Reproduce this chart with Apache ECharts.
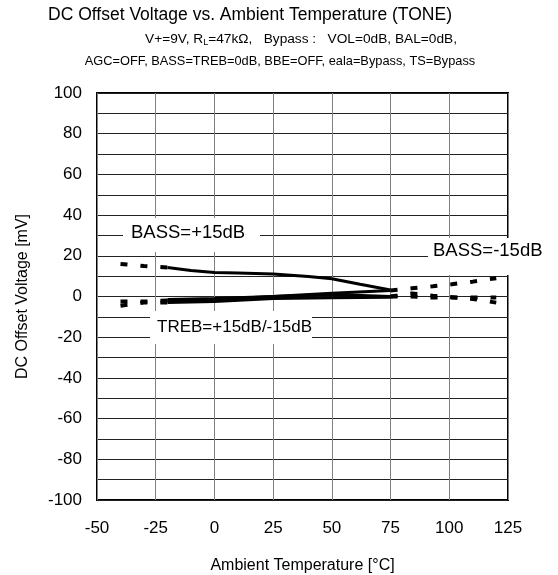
<!DOCTYPE html>
<html>
<head>
<meta charset="utf-8">
<script src="https://cdn.jsdelivr.net/npm/echarts@6/dist/echarts.min.js"></script>
<style>
html,body{margin:0;padding:0;background:#fff;}
#main{width:558px;height:575px;}
</style>
</head>
<body>
<div id="main"></div>
<script>
// temperature ticks and curves
var xTicks = [-50, -25, 0, 25, 50, 75, 100, 125];
var yTicks = [-100, -80, -60, -40, -20, 0, 20, 40, 60, 80, 100];

// measured range -20..75 (solid)
var bassPlus = [[-20, 14.2], [-10, 12.8], [0, 11.8], [10, 11.5], [25, 11], [40, 9.8], [50, 8.7], [62, 6], [75, 3.2]];
var bassMinus = [[-20, -2], [0, -1.5], [25, 0], [50, 1.6], [75, 3]];
var trebPlus = [[-20, -1.5], [0, -1], [25, 0], [50, 1], [75, 0]];
var trebMinus = [[-20, -3], [0, -2.5], [25, -1], [50, -0.6], [75, -0.4]];

// extrapolated range (dashed)
var bassPlusExt = [[-40, 16], [-30, 15], [-20, 14.2]];
var lowLeftA = [[-40, -2.5], [-30, -2.5], [-20, -2]];
var lowLeftB = [[-40, -4.5], [-30, -3], [-20, -3]];
var bassMinusExt = [[75, 3], [84, 4], [93, 5], [101, 6], [110, 7.3], [120, 9]];
var trebPlusExt = [[75, 0], [84, 0], [93, -0.5], [110, -0.5], [120, -0.5]];
var trebMinusExt = [[75, 0], [84, 1.5], [93, 0.4], [110, -1.2], [120, -3]];

var FONT = 'Liberation Sans, Arial, sans-serif';

function solid(d, w) {
    return {type: 'line', data: d, showSymbol: false, smooth: false, silent: true,
        lineStyle: {color: '#000', width: w}};
}
function dashed(d) {
    return {type: 'line', data: d, showSymbol: false, silent: true,
        lineStyle: {color: '#000', width: 4, type: [7, 13]}};
}

var dom = document.getElementById('main');
var myChart = echarts.init(dom);
var option = {
    backgroundColor: '#fff',
    animation: false,
    textStyle: {fontFamily: FONT, color: '#000'},
    grid: {left: 97, top: 93, right: 50, bottom: 75, outerBoundsMode: 'none', containLabel: false,
        show: true, borderColor: '#000', borderWidth: 2, backgroundColor: 'transparent'},
    xAxis: {
        type: 'value', min: xTicks[0], max: xTicks[xTicks.length - 1], interval: 25,
        axisLine: {show: false}, axisTick: {show: false},
        axisLabel: {fontSize: 17, color: '#000', margin: 20, fontFamily: FONT},
        splitLine: {lineStyle: {color: '#808080', width: 1}},
        name: 'Ambient Temperature [°C]', nameLocation: 'middle', nameGap: 58,
        nameTextStyle: {fontSize: 16, color: '#000', fontFamily: FONT}
    },
    yAxis: {
        type: 'value', min: yTicks[0], max: yTicks[yTicks.length - 1], interval: 20,
        axisLine: {show: false}, axisTick: {show: false},
        axisLabel: {fontSize: 17, color: '#000', margin: 15, fontFamily: FONT},
        splitLine: {lineStyle: {color: '#222', width: 1}},
        minorTick: {show: false, splitNumber: 2},
        minorSplitLine: {show: true, lineStyle: {color: '#222', width: 1}},
        name: 'DC Offset Voltage [mV]', nameLocation: 'middle', nameGap: 66,
        nameTextStyle: {fontSize: 16, color: '#000', fontFamily: FONT}
    },
    graphic: [
        {type: 'text', x: 250, y: 15, style: {text: 'DC Offset Voltage vs. Ambient Temperature (TONE)', align: 'center', verticalAlign: 'middle', font: '17.5px ' + FONT, fill: '#000'}},
        {type: 'text', x: 301, y: 39, style: {
            text: 'V+=9V, R{s|L}=47kΩ,   Bypass :   VOL=0dB, BAL=0dB,', align: 'center', verticalAlign: 'middle',
            font: '13.7px ' + FONT, fill: '#000',
            rich: {s: {fontSize: 9, padding: [8, 0, 0, 0], fontFamily: FONT}}}},
        {type: 'text', x: 280, y: 61, style: {
            text: 'AGC=OFF, BASS=TREB=0dB, BBE=OFF, eala=Bypass, TS=Bypass', align: 'center', verticalAlign: 'middle',
            font: '12.8px ' + FONT, fill: '#000'}},
        {type: 'rect', shape: {x: 123, y: 218, width: 137, height: 34}, style: {fill: '#fff'}, z: 50},
        {type: 'text', x: 131, y: 233, z: 51, style: {text: 'BASS=+15dB', align: 'left', verticalAlign: 'middle', font: '18.5px ' + FONT, fill: '#000'}},
        {type: 'rect', shape: {x: 428, y: 238, width: 92, height: 37}, style: {fill: '#fff'}, z: 50},
        {type: 'text', x: 433, y: 251, z: 51, style: {text: 'BASS=-15dB', align: 'left', verticalAlign: 'middle', font: '18.5px ' + FONT, fill: '#000'}},
        {type: 'rect', shape: {x: 150, y: 311, width: 162, height: 33}, style: {fill: '#fff'}, z: 50},
        {type: 'text', x: 157, y: 327, z: 51, style: {text: 'TREB=+15dB/-15dB', align: 'left', verticalAlign: 'middle', font: '17px ' + FONT, fill: '#000'}}
    ],
    series: [
        solid(bassPlus, 3),
        solid(bassMinus, 3),
        solid(trebPlus, 3),
        solid(trebMinus, 3),
        dashed(bassPlusExt),
        dashed(lowLeftA),
        dashed(lowLeftB),
        dashed(bassMinusExt),
        dashed(trebPlusExt),
        dashed(trebMinusExt)
    ]
};
if (option && typeof option == "object") {
    myChart.setOption(option, true);
}
</script>
</body>
</html>
